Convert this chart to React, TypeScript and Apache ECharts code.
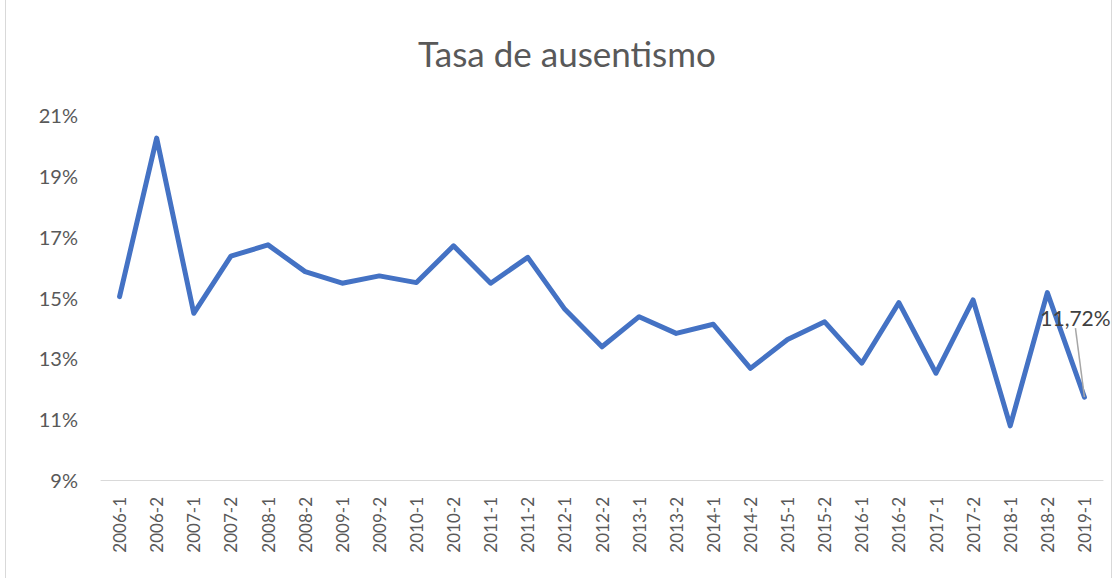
import React, { useEffect, useRef } from "react";
import * as echarts from "echarts";

const categories = [
  "2006-1", "2006-2", "2007-1", "2007-2", "2008-1", "2008-2", "2009-1", "2009-2",
  "2010-1", "2010-2", "2011-1", "2011-2", "2012-1", "2012-2", "2013-1", "2013-2",
  "2014-1", "2014-2", "2015-1", "2015-2", "2016-1", "2016-2", "2017-1", "2017-2",
  "2018-1", "2018-2", "2019-1",
];

const absenteeismRate = [
  15.03, 20.24, 14.48, 16.36, 16.73, 15.85, 15.47, 15.71,
  15.49, 16.70, 15.47, 16.32, 14.61, 13.38, 14.37, 13.82,
  14.12, 12.67, 13.62, 14.20, 12.84, 14.83, 12.51, 14.92,
  10.78, 15.16, 11.72,
];

const labeledIndex = 26;
const labeledText = "11,72%";

const yMin = 9;
const yMax = 21;
const yStep = 2;

export default function App() {
  const ref = useRef<HTMLDivElement>(null);

  useEffect(() => {
    if (!ref.current) return;
    const chart = echarts.init(ref.current, undefined, { renderer: "svg" });
    const font = "Lato, 'Open Sans', sans-serif";
    chart.setOption({
      animation: false,
      backgroundColor: "#ffffff",
      title: {
        text: "Tasa de ausentismo",
        left: 562,
        textAlign: "center",
        top: 30,
        textStyle: { fontFamily: font, fontSize: 35, fontWeight: "normal", color: "#595959" },
      },
      grid: { left: 101, right: 13, top: 115, bottom: 98, containLabel: false },
      xAxis: {
        type: "category",
        data: categories,
        boundaryGap: true,
        axisLine: { lineStyle: { color: "#d9d9d9", width: 1 } },
        axisTick: { show: false },
        axisLabel: {
          rotate: 90,
          interval: 0,
          margin: 17,
          fontFamily: font,
          fontSize: 17,
          color: "#595959",
        },
      },
      yAxis: {
        type: "value",
        min: yMin,
        max: yMax,
        interval: yStep,
        axisLine: { show: false },
        axisTick: { show: false },
        splitLine: { show: false },
        axisLabel: {
          margin: 23,
          fontFamily: font,
          fontSize: 20,
          color: "#595959",
          formatter: (v: number) => `${v}%`,
        },
      },
      series: [
        {
          type: "line",
          data: absenteeismRate.map((v, i) =>
            i === labeledIndex
              ? {
                  value: v,
                  label: {
                    show: true,
                    position: "top",
                    formatter: labeledText,
                    fontFamily: font,
                    fontSize: 21,
                    color: "#404040",
                  },
                  labelLine: { show: true, lineStyle: { color: "#a6a6a6", width: 1.5 } },
                }
              : v
          ),
          showSymbol: true,
          symbol: "circle",
          symbolSize: 0.1,
          lineStyle: { color: "#4472C4", width: 5, cap: "round", join: "round" },
          itemStyle: { color: "#4472C4" },
          labelLine: { show: true, lineStyle: { color: "#a6a6a6", width: 1.5 } },
          labelLayout: { dx: -9, dy: -64 },
        },
      ],
      graphic: [
        {
          type: "rect",
          shape: { x: 5.5, y: -2, width: 1106, height: 582 },
          style: { fill: "none", stroke: "#d9d9d9", lineWidth: 1 },
          silent: true,
        },
      ],
    });
    return () => chart.dispose();
  }, []);

  return (
    <div
      ref={ref}
      style={{ position: "fixed", left: 0, top: 0, width: 1116, height: 578 }}
    />
  );
}
